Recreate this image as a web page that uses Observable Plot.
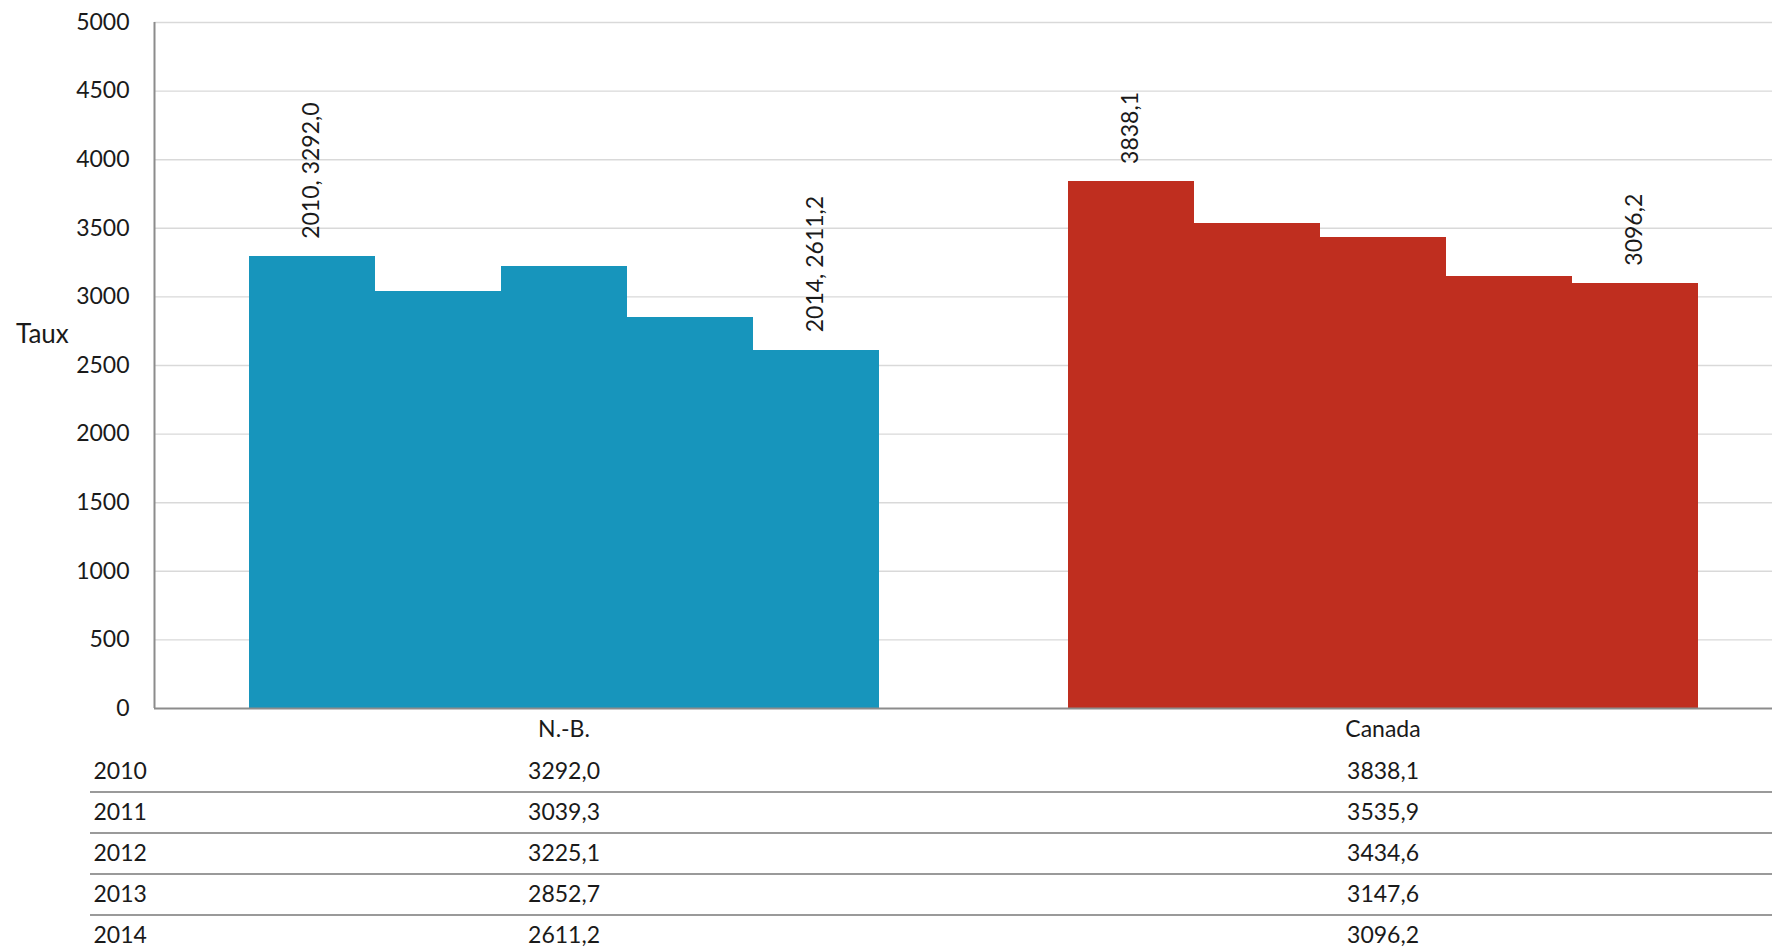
<!DOCTYPE html>
<html>
<head>
<meta charset="utf-8">
<script src="https://cdn.jsdelivr.net/npm/d3@7"></script>
<script src="https://cdn.jsdelivr.net/npm/@observablehq/plot@0.6"></script>
<style>
  html, body { margin: 0; padding: 0; background: white; overflow: hidden; }
  #wrap { position: relative; width: 1772px; height: 949px; font-family: Lato, sans-serif; color: #1a1a1a; }
  #ylabel { position: absolute; left: 16px; top: 333px; transform: translateY(-50%); font-size: 26px; }
  #wrap svg { display: block; }
</style>
</head>
<body>
<div id="wrap"><div id="ylabel">Taux</div></div>
<script>
// ---- data ----
const categories = ["N.-B.", "Canada"];
const years = [2010, 2011, 2012, 2013, 2014];
const nbValues = [3292.0, 3039.3, 3225.1, 2852.7, 2611.2];
const canadaValues = [3838.1, 3535.9, 3434.6, 3147.6, 3096.2];
const yTicks = [0, 500, 1000, 1500, 2000, 2500, 3000, 3500, 4000, 4500, 5000];
const colors = ["#1795bc", "#bf2e1f"];

// ---- derived table ----
const seriesValues = [nbValues, canadaValues];
const slot = years.length + 1.5;          // group slot in bar units (outer gaps included)
const fmt = v => v.toFixed(1).replace(".", ",");
const rows = [];
categories.forEach((cat, ci) => {
  years.forEach((yr, yi) => {
    const x1 = ci * slot + 0.75 + yi;
    rows.push({cat, ci, year: yr, yi, value: seriesValues[ci][yi], x1, x2: x1 + 1});
  });
});
const centers = categories.map((c, i) => i * slot + slot / 2);
const nameAt = new Map(centers.map((c, i) => [c, categories[i]]));
const labelled = rows.filter(d => d.yi === 0 || d.yi === years.length - 1)
  .map(d => ({...d, text: d.ci === 0 ? `${d.year}, ${fmt(d.value)}` : fmt(d.value)}));

const xDomain = [0, slot * categories.length];
const xRange = [154, 1792];

const chart = Plot.plot({
  width: 1772,
  height: 745,
  marginTop: 22,
  marginBottom: 37,
  marginLeft: 154,
  marginRight: 0,
  style: {fontFamily: "Lato, sans-serif", fontSize: "23px", color: "#1a1a1a", background: "white"},
  x: {domain: xDomain, range: xRange, ticks: centers, tickFormat: d => nameAt.get(d), tickSize: 0, tickPadding: 12, label: null},
  y: {domain: [0, 5000], ticks: yTicks, tickSize: 0, tickPadding: 25, label: null, tickFormat: d => String(d)},
  color: {domain: categories, range: colors},
  marks: [
    Plot.ruleY(yTicks.filter(d => d > 0), {stroke: "#d9d9d9", strokeWidth: 1.4}),
    Plot.rectY(rows, {x1: "x1", x2: "x2", y: "value", fill: "cat", shapeRendering: "crispEdges"}),
    Plot.ruleY([0], {stroke: "#8c8c8c", strokeWidth: 2}),
    Plot.ruleX([0], {stroke: "#8c8c8c", strokeWidth: 2}),
    Plot.text(labelled, {x: d => (d.x1 + d.x2) / 2, y: "value", text: "text", rotate: -90, textAnchor: "start", dy: -18, fontSize: 23, fill: "#1a1a1a"})
  ]
});

const tableRows = [];
categories.forEach((cat, ci) => years.forEach((yr, yi) => tableRows.push({cat, x: centers[ci], year: yr, value: seriesValues[ci][yi]})));

const table = Plot.plot({
  width: 1772,
  height: 204,
  marginTop: 0,
  marginBottom: 0,
  marginLeft: 90,
  marginRight: 0,
  style: {fontFamily: "Lato, sans-serif", fontSize: "24px", color: "#1a1a1a", background: "white"},
  x: {domain: xDomain, range: xRange, axis: null},
  y: {type: "point", domain: years, range: [25, 190], padding: 0, axis: null},
  marks: [
    Plot.ruleY(years.slice(1), {y: d => d, dy: -20.6, stroke: "#9a9a9a", strokeWidth: 2}),
    Plot.text(years, {y: d => d, frameAnchor: "left", dx: 3, textAnchor: "start", text: d => String(d), fontSize: 23, fill: "#1a1a1a"}),
    Plot.text(tableRows, {x: "x", y: "year", text: d => fmt(d.value), fontSize: 23, fill: "#1a1a1a"})
  ]
});

const wrap = document.getElementById("wrap");
wrap.appendChild(chart);
wrap.appendChild(table);
</script>
</body>
</html>
